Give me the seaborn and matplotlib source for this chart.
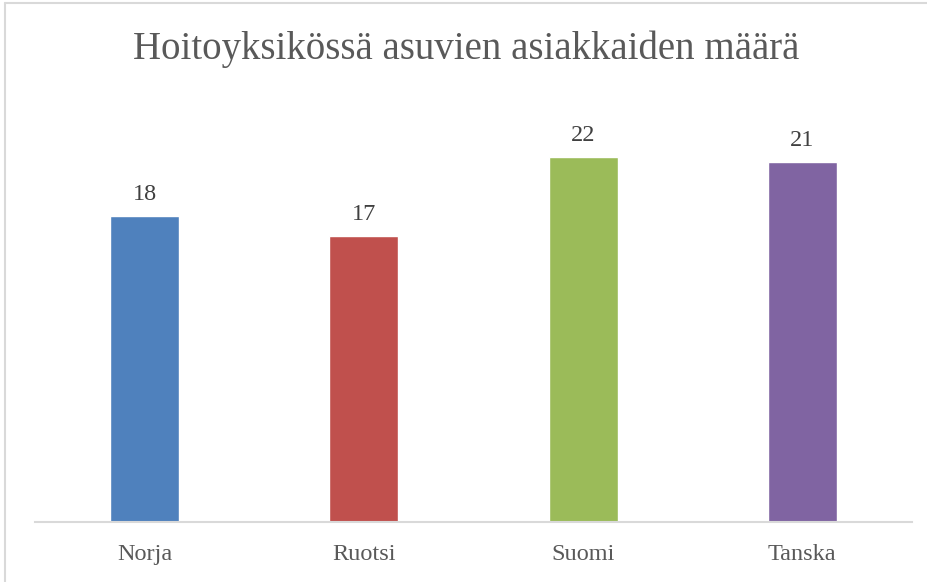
import matplotlib
matplotlib.use("Agg")
import matplotlib.pyplot as plt
import seaborn as sns
import pandas as pd
from matplotlib.lines import Line2D

maat = ["Norja", "Ruotsi", "Suomi", "Tanska"]
# bar heights (labels show them rounded)
asiakkaat = [18.15, 17.0, 21.65, 21.35]
varit = ["#4F81BD", "#C0504D", "#9BBB59", "#8064A2"]
otsikko = "Hoitoyksikössä asuvien asiakkaiden määrä"

sns.set_theme(style="white")
plt.rcParams["font.family"] = ["Liberation Serif", "DejaVu Serif"]

df = pd.DataFrame({"maa": maat, "asiakkaat": asiakkaat})

fig = plt.figure(figsize=(9.28, 5.82), dpi=100)
ax = fig.add_axes([35 / 928, 60 / 582, 877 / 928, 421 / 582])

sns.barplot(data=df, x="maa", y="asiakkaat", hue="maa", palette=varit,
            width=0.315, legend=False, ax=ax, saturation=1)

ax.set_ylim(0, 25)
ax.set_xlim(-0.5, 3.5)
ax.set_xlabel("")
ax.set_ylabel("")
ax.set_yticks([])
ax.tick_params(axis="x", length=0, labelsize=17.5, colors="#595959", pad=15.5)
for s in ["top", "left", "right"]:
    ax.spines[s].set_visible(False)
ax.spines["bottom"].set_color("#D9D9D9")
ax.spines["bottom"].set_linewidth(1.5)

for i, v in enumerate(asiakkaat):
    ax.annotate(f"{v:.0f}", (i, v), xytext=(0, 8), textcoords="offset points",
                ha="center", va="bottom", fontsize=17.5, color="#404040")

fig.text(466 / 928, 1 - 59 / 582, otsikko, ha="center", va="baseline",
         fontsize=28, color="#595959")

# chart frame (left and top edges visible)
fig.add_artist(Line2D([5 / 928, 5 / 928], [0, 1 - 3 / 582], transform=fig.transFigure,
                      color="#D9D9D9", linewidth=1.5))
fig.add_artist(Line2D([5 / 928, 1], [1 - 3 / 582, 1 - 3 / 582], transform=fig.transFigure,
                      color="#D9D9D9", linewidth=1.5))

fig.savefig("out.png", dpi=100)
